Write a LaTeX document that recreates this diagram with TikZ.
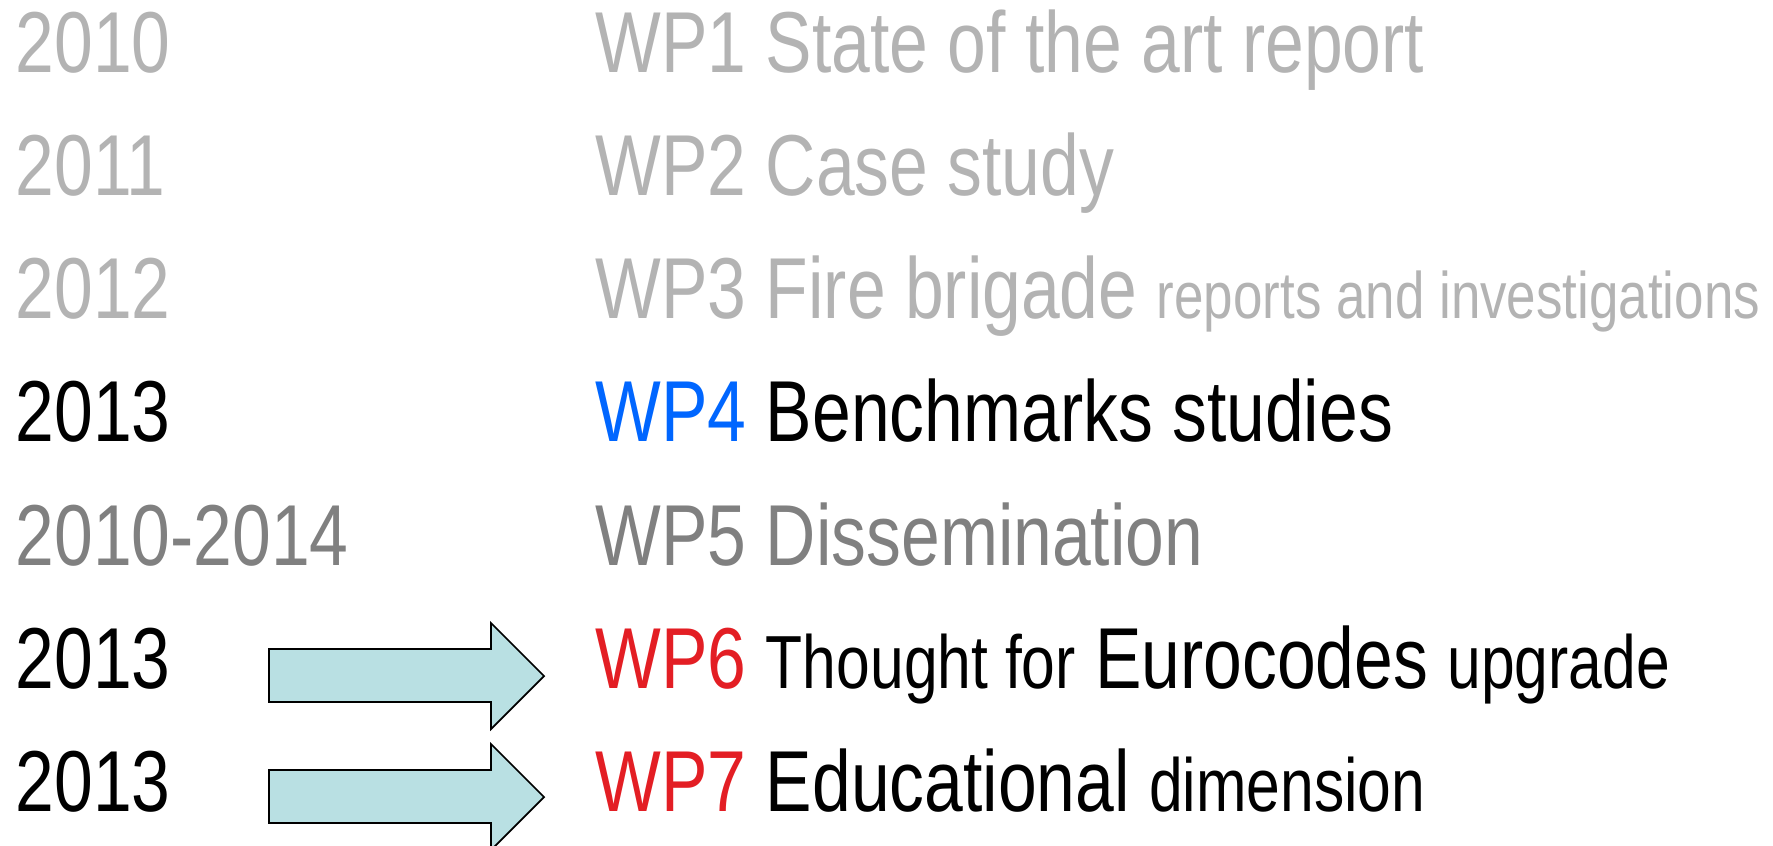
\documentclass[tikz,border=0pt]{standalone}
\usepackage{fontspec}
\setmainfont{Liberation Sans}[FakeStretch=0.805]
\definecolor{paleGrey}{HTML}{B3B3B3}
\definecolor{midGrey}{HTML}{808080}
\definecolor{wpBlue}{HTML}{0066FF}
\definecolor{wpRed}{HTML}{E31E24}
\definecolor{arrowFill}{HTML}{B9E0E3}
\newcommand{\lesssize}{\fontsize{18.7pt}{22pt}\selectfont}
\newcommand{\midsize}{\fontsize{21.4pt}{25pt}\selectfont}
\tikzset{
  rowtext/.style={anchor=base west, inner sep=0pt, font=\fontsize{24.6pt}{30pt}\selectfont},
  blockarrow/.style={draw=black, fill=arrowFill, line width=0.5pt, line join=miter}
}
\begin{document}
\begin{tikzpicture}[x=0.01cm,y=-0.01cm]
            \useasboundingbox (0,0) rectangle (1773,846);
            \node [rowtext, paleGrey] (year1) at (15,73) {2010};
            \node [rowtext, paleGrey] (year2) at (15,196) {2011};
            \node [rowtext, paleGrey] (year3) at (15,319) {2012};
            \node [rowtext] (year4) at (15,442) {2013};
            \node [rowtext, midGrey] (year5) at (15,565) {2010-2014};
            \node [rowtext] (year6) at (15,688) {2013};
            \node [rowtext] (year7) at (15,811) {2013};
            \node [rowtext, paleGrey] (wp1) at (595,73) {WP1 State of the art report};
            \node [rowtext, paleGrey] (wp2) at (595,196) {WP2 Case study};
            \node [rowtext, paleGrey] (wp3) at (595,319) {WP3 Fire brigade {\lesssize reports and investigations}};
            \node [rowtext] (wp4) at (595,442) {\textcolor{wpBlue}{WP4} Benchmarks studies};
            \node [rowtext, midGrey] (wp5) at (595,565) {WP5 Dissemination};
            \node [rowtext] (wp6) at (595,688) {\textcolor{wpRed}{WP6} {\midsize Thought for} Eurocodes {\midsize upgrade}};
            \node [rowtext] (wp7) at (595,811) {\textcolor{wpRed}{WP7} Educational {\midsize dimension}};
            \filldraw [blockarrow] (269,649) -- (491,649) -- (491,623) -- (544,676) -- (491,729) -- (491,702) -- (269,702) -- cycle;
            \filldraw [blockarrow] (269,770) -- (491,770) -- (491,744) -- (544,797) -- (491,850) -- (491,823) -- (269,823) -- cycle;
        \end{tikzpicture}
\end{document}
